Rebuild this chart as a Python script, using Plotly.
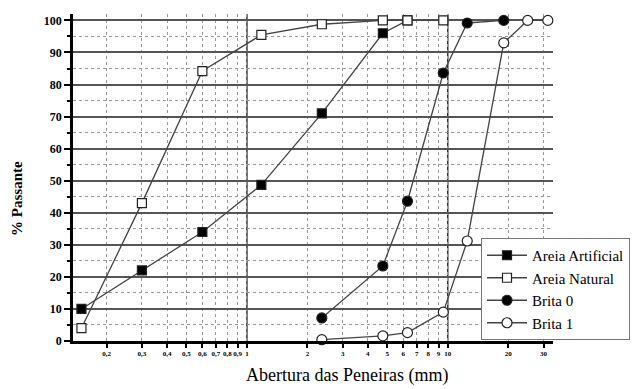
import plotly.graph_objects as go

# Sieve openings (mm) and % passing
aa_x = [0.15, 0.3, 0.6, 1.18, 2.36, 4.75, 6.3]
aa_y = [10, 22, 34, 48.7, 71, 96, 100]
an_x = [0.15, 0.3, 0.6, 1.18, 2.36, 4.75, 6.3, 9.5]
an_y = [4, 43, 84.2, 95.5, 98.8, 100, 100, 100]
b0_x = [2.36, 4.75, 6.3, 9.5, 12.5, 19]
b0_y = [7.2, 23.4, 43.6, 83.6, 99.2, 100]
b1_x = [2.36, 4.75, 6.3, 9.5, 12.5, 19, 25, 31.5]
b1_y = [0.4, 1.6, 2.6, 9, 31.2, 93, 100, 100]

x_tickvals = [0.2, 0.3, 0.4, 0.5, 0.6, 0.7, 0.8, 0.9, 1, 2, 3, 4, 5, 6, 7, 8, 9, 10, 20, 30]
x_ticktext = ["0,2", "0,3", "0,4", "0,5", "0,6", "0,7", "0,8", "0,9", "1",
              "2", "3", "4", "5", "6", "7", "8", "9", "10", "20", "30"]
y_tickvals = [0, 10, 20, 30, 40, 50, 60, 70, 80, 90, 100]

SERIF = "Liberation Serif"
line_col = "#444444"

fig = go.Figure()
series = [
    ("Areia Artificial", aa_x, aa_y, "square", "black"),
    ("Areia Natural", an_x, an_y, "square", "white"),
    ("Brita 0", b0_x, b0_y, "circle", "black"),
    ("Brita 1", b1_x, b1_y, "circle", "white"),
]
for name, xs, ys, sym, fill in series:
    fig.add_trace(go.Scatter(
        x=xs, y=ys, name=name, mode="lines+markers",
        line=dict(color=line_col, width=1.3),
        marker=dict(symbol=sym, size=10 if sym == "circle" else 9, color=fill,
                    line=dict(color="#222222", width=1.2)),
        cliponaxis=False,
    ))

for v in [1, 10]:
    fig.add_shape(type="line", xref="x", yref="paper", x0=v, x1=v, y0=0, y1=1,
                  line=dict(color="#333333", width=1.5), layer="below")

fig.add_annotation(text="Abertura das Peneiras (mm)", xref="paper", yref="paper",
                   x=0.571, y=-0.104, xanchor="center", yanchor="middle", showarrow=False,
                   font=dict(family=SERIF, size=18, color="black"))
fig.add_annotation(text="<b>% Passante</b>", xref="paper", yref="paper",
                   x=-0.117, y=0.437, xanchor="center", yanchor="middle", showarrow=False,
                   textangle=-90, font=dict(family=SERIF, size=15, color="black"))

fig.update_layout(
    width=635, height=389,
    margin=dict(l=73, r=82, t=14, b=48, autoexpand=False),
    paper_bgcolor="white", plot_bgcolor="white",
    font=dict(family=SERIF, color="black"),
    showlegend=True,
    legend=dict(x=0.85, y=0.159, xanchor="left", yanchor="middle",
                bgcolor="white", bordercolor="#777777", borderwidth=1,
                font=dict(family=SERIF, size=15, color="black"),
                itemwidth=40, tracegroupgap=0),
    xaxis=dict(
        type="log", range=[-0.866, 1.524],
        tickmode="array", tickvals=x_tickvals, ticktext=x_ticktext, tickangle=0,
        tickfont=dict(family=SERIF, size=7, color="black", weight="bold"),
        ticks="outside", ticklen=4, tickcolor="black", tickwidth=1.5,
        showgrid=True, gridcolor="#999999", gridwidth=1, griddash="dot",
        showline=True, linecolor="black", linewidth=2.5,
        zeroline=False,
    ),
    yaxis=dict(
        range=[0, 102],
        tickmode="array", tickvals=y_tickvals,
        tickfont=dict(family=SERIF, size=12, color="black", weight="bold"),
        ticks="outside", ticklen=6, tickcolor="black", tickwidth=2,
        showgrid=True, gridcolor="#555555", gridwidth=1.5,
        minor=dict(dtick=5, tick0=0, ticks="outside", ticklen=3, tickcolor="black",
                   showgrid=True, gridcolor="#999999", gridwidth=1, griddash="dot"),
        showline=True, linecolor="black", linewidth=2.5,
        zeroline=False,
    ),
)

fig.write_html("out.html")
